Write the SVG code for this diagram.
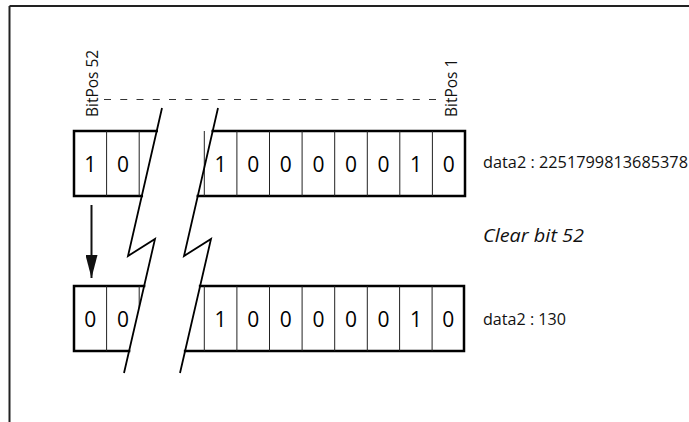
<svg xmlns="http://www.w3.org/2000/svg" width="689" height="422" viewBox="0 0 689 422">
<defs>
<style>
.frame{stroke:#222;stroke-width:2;fill:none}
.edge{stroke:#000;stroke-width:2.5;fill:none;stroke-linecap:square}
.div{stroke:#222;stroke-width:1;fill:none}
.brk{stroke:#000;stroke-width:1.8;fill:none;stroke-linejoin:miter}
.dig{font-family:"Open Sans","Noto Sans","DejaVu Sans",sans-serif;font-size:21px;fill:#000;text-anchor:middle}
.lbl{font-family:"Open Sans","Noto Sans","DejaVu Sans",sans-serif;font-size:15.5px;fill:#111}
.pos{font-family:"Open Sans","Noto Sans","DejaVu Sans",sans-serif;font-size:15.5px;fill:#111}
.it{font-style:italic;font-size:19px}
</style>
<marker id="ah" markerWidth="24" markerHeight="12" refX="23" refY="6" orient="auto" markerUnits="userSpaceOnUse" viewBox="0 0 24 12">
<polygon points="0,0 23,6 0,12" fill="#111"/>
</marker>
</defs>
<rect width="689" height="422" fill="#fff"/>
<g id="frame">
<path class="frame" d="M9.5,6 H689 M9.5,6 V422"/>
</g>
<g id="row-top">
<path class="edge" d="M156.7,131 H74 V196 H141.8 M212.7,131 H465 V196 H197.8"/>
<path class="div" d="M106.6,131 V196 M139.2,131 V196 M204.3,131 V196 M236.9,131 V196 M269.5,131 V196 M302.1,131 V196 M334.7,131 V196 M367.3,131 V196 M399.8,131 V196 M432.4,131 V196"/>
<text class="dig" x="90.3" y="171.5">1</text>
<text class="dig" x="122.9" y="171.5">0</text>
<text class="dig" x="220.6" y="171.5">1</text>
<text class="dig" x="253.2" y="171.5">0</text>
<text class="dig" x="285.8" y="171.5">0</text>
<text class="dig" x="318.4" y="171.5">0</text>
<text class="dig" x="351" y="171.5">0</text>
<text class="dig" x="383.6" y="171.5">0</text>
<text class="dig" x="416.1" y="171.5">1</text>
<text class="dig" x="448.7" y="171.5">0</text>
</g>
<g id="row-bottom">
<path class="edge" d="M144.1,286 H74 V351 H129.1 M200.1,286 H464 V351 H185.1"/>
<path class="div" d="M106.6,286 V351 M139.2,286 V308 M204.3,286 V351 M236.9,286 V351 M269.5,286 V351 M302.1,286 V351 M334.7,286 V351 M367.3,286 V351 M399.6,286 V351 M432.1,286 V351"/>
<text class="dig" x="90.3" y="326.5">0</text>
<text class="dig" x="122.9" y="326.5">0</text>
<text class="dig" x="220.6" y="326.5">1</text>
<text class="dig" x="253.2" y="326.5">0</text>
<text class="dig" x="285.8" y="326.5">0</text>
<text class="dig" x="318.4" y="326.5">0</text>
<text class="dig" x="351" y="326.5">0</text>
<text class="dig" x="383.6" y="326.5">0</text>
<text class="dig" x="416" y="326.5">1</text>
<text class="dig" x="448.3" y="326.5">0</text>
</g>
<g id="break">
<polyline class="brk" points="162,108 128,256 155,239 124,373"/>
<polyline class="brk" points="218,108 184,256 211,239 180,373"/>
</g>
<g id="labels">
<text class="pos" transform="translate(98,117) rotate(-90)">BitPos 52</text>
<text class="pos" transform="translate(457,117) rotate(-90)">BitPos 1</text>
<text class="lbl" x="483" y="168" textLength="205" lengthAdjust="spacingAndGlyphs">data2 : 2251799813685378</text>
<text class="lbl it" x="483" y="242" textLength="101" lengthAdjust="spacingAndGlyphs">Clear bit 52</text>
<text class="lbl" x="483" y="325" textLength="83" lengthAdjust="spacingAndGlyphs">data2 : 130</text>
</g>
<g id="connectors">
<line x1="104" y1="99.5" x2="437" y2="99.5" stroke="#333" stroke-width="1" stroke-dasharray="7 9.25"/>
<line x1="91.5" y1="205" x2="91.5" y2="278" stroke="#111" stroke-width="2" marker-end="url(#ah)"/>
</g>
</svg>
